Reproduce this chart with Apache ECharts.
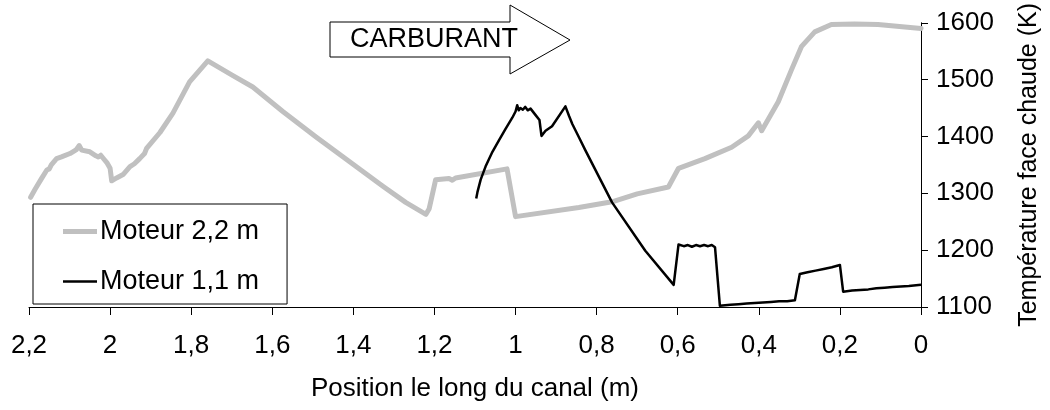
<!DOCTYPE html>
<html>
<head>
<meta charset="utf-8">
<script src="https://cdn.jsdelivr.net/npm/echarts@6/dist/echarts.min.js"></script>
<style>
  html, body { margin: 0; padding: 0; background: #fff; }
  #chart { width: 1050px; height: 410px; }
</style>
</head>
<body>
<div id="chart"></div>
<script>
// Hot-wall temperature profiles along the cooling channel
const seriesNames = ['Moteur 2,2 m', 'Moteur 1,1 m'];

// Engine 2.2 m: position (m) and temperature (K)
const pos22 = [2.196, 2.185, 2.170, 2.156, 2.150, 2.145, 2.132, 2.120, 2.099, 2.083, 2.076, 2.070,
  2.050, 2.035, 2.029, 2.023, 2.015, 2.007, 2.000, 1.996, 1.984, 1.968, 1.951, 1.940, 1.927,
  1.915, 1.910, 1.877, 1.845, 1.804, 1.759, 1.697, 1.648, 1.574, 1.492, 1.410, 1.328, 1.271,
  1.221, 1.213, 1.197, 1.164, 1.156, 1.148, 1.021, 1.000, 0.844, 0.762, 0.700, 0.623, 0.598,
  0.533, 0.467, 0.426, 0.401, 0.393, 0.352, 0.319, 0.295, 0.262, 0.221, 0.164, 0.106, 0.000];
const temp22 = [1293, 1307, 1325, 1341, 1343, 1350, 1361, 1364, 1370, 1377, 1384, 1376,
  1373, 1366, 1364, 1367, 1360, 1353, 1344, 1322, 1327, 1333, 1347, 1352, 1361,
  1370, 1379, 1407, 1441, 1496, 1533, 1507, 1487, 1444, 1399, 1356, 1313, 1284,
  1263, 1273, 1324, 1326, 1323, 1327, 1343, 1259, 1275, 1285, 1299, 1311, 1344,
  1361, 1381, 1401, 1424, 1410, 1461, 1518, 1558, 1584, 1597, 1598, 1597, 1590];

// Engine 1.1 m: position (m) and temperature (K)
const pos11 = [1.097, 1.094, 1.086, 1.074, 1.057, 1.041, 1.025, 1.008, 1.000, 0.996, 0.992, 0.988,
  0.982, 0.976, 0.970, 0.963, 0.951, 0.941, 0.936, 0.926, 0.910, 0.877, 0.868, 0.860, 0.844,
  0.828, 0.762, 0.680, 0.610,
  0.598, 0.585, 0.575, 0.565, 0.555, 0.545, 0.535, 0.525, 0.516, 0.508, 0.496,
  0.470, 0.450, 0.430, 0.410, 0.390, 0.370, 0.350, 0.330, 0.311, 0.299,
  0.280, 0.260, 0.240, 0.220, 0.200, 0.192,
  0.170, 0.150, 0.130, 0.110, 0.090, 0.070, 0.050, 0.030, 0.000];
const temp11 = [1291, 1302, 1324, 1347, 1373, 1393, 1413, 1433, 1444, 1455, 1446, 1450,
  1447, 1452, 1446, 1449, 1438, 1429, 1401, 1410, 1418, 1453, 1436, 1422, 1399,
  1376, 1284, 1199, 1139,
  1210, 1207, 1209, 1206, 1209, 1207, 1209, 1207, 1209, 1205, 1102,
  1104, 1105, 1106, 1107, 1108, 1109, 1110, 1110, 1112, 1158,
  1161, 1164, 1167, 1170, 1174, 1127,
  1129, 1130, 1131, 1133, 1134, 1135, 1136, 1137, 1139];

// Axis ranges and titles
const xMin = 0, xMax = 2.2, xStep = 0.2;
const yMin = 1100, yMax = 1600, yStep = 100;
const xTitle = 'Position le long du canal (m)';
const yTitle = 'Température face chaude (K)';
const arrowText = 'CARBURANT';

const toPairs = (xs, ys) => xs.map((x, i) => [x, ys[i]]);
const fmtComma = v => String(+(+v).toFixed(1)).replace('.', ',');
const fmtPlain = v => String(Math.round(v));

const FONT = 'Liberation Sans, Arial, Helvetica, sans-serif';
const FS_TICK = 26;
const FS_TEXT = 27;

const chart = echarts.init(document.getElementById('chart'), null, { renderer: 'canvas' });

chart.setOption({
  animation: false,
  backgroundColor: '#ffffff',
  textStyle: { fontFamily: FONT, color: '#000' },
  grid: { left: 29, right: 127, top: 16, bottom: 103, containLabel: false },
  legend: {
    orient: 'vertical',
    left: 33,
    top: 204,
    data: [
      { name: seriesNames[0], icon: 'path://M0,0H40V6H0Z' },
      { name: seriesNames[1], icon: 'path://M0,0H40V3H0Z' }
    ],
    symbolKeepAspect: true,
    borderColor: '#000',
    borderWidth: 1,
    backgroundColor: '#fff',
    padding: [14, 28, 9, 30],
    itemWidth: 34,
    itemHeight: 14,
    itemGap: 23,
    textStyle: { fontFamily: FONT, fontSize: FS_TEXT, color: '#000', padding: [0, 0, 0, -2] }
  },
  xAxis: {
    type: 'value',
    inverse: true,
    min: xMin,
    max: xMax,
    interval: xStep,
    name: xTitle,
    nameLocation: 'middle',
    nameGap: 69,
    nameTextStyle: { fontFamily: FONT, fontSize: FS_TEXT - 1, color: '#000' },
    axisLine: { show: true, onZero: false, lineStyle: { color: '#000', width: 1 } },
    axisTick: { show: true, length: 8, lineStyle: { color: '#000', width: 1 } },
    axisLabel: { margin: 26, fontFamily: FONT, fontSize: FS_TICK, color: '#000', formatter: fmtComma },
    splitLine: { show: false }
  },
  yAxis: {
    type: 'value',
    position: 'right',
    min: yMin,
    max: yMax,
    interval: yStep,
    name: yTitle,
    nameLocation: 'middle',
    nameRotate: 90,
    nameGap: 96,
    nameTextStyle: { fontFamily: FONT, fontSize: 25, color: '#000' },
    axisLine: { show: true, onZero: false, lineStyle: { color: '#000', width: 1 } },
    axisTick: { show: true, length: 7, lineStyle: { color: '#000', width: 1 } },
    axisLabel: { margin: 15, fontFamily: FONT, fontSize: FS_TICK, color: '#000', formatter: fmtPlain },
    splitLine: { show: false }
  },
  series: [
    {
      name: seriesNames[0],
      type: 'line',
      data: toPairs(pos22, temp22),
      showSymbol: false,
      symbol: 'none',
      lineStyle: { color: '#c0c0c0', width: 5, join: 'round', cap: 'round' },
      itemStyle: { color: '#c0c0c0' },
      z: 2
    },
    {
      name: seriesNames[1],
      type: 'line',
      data: toPairs(pos11, temp11),
      showSymbol: false,
      symbol: 'none',
      lineStyle: { color: '#000', width: 2.5, join: 'round' },
      itemStyle: { color: '#000' },
      z: 3
    }
  ],
  graphic: [
    {
      type: 'polygon',
      shape: {
        points: [[330, 22], [510, 22], [510, 5], [570, 40], [510, 74], [510, 57], [330, 57]]
      },
      style: { fill: '#fff', stroke: '#000', lineWidth: 1 },
      z: 10
    },
    {
      type: 'text',
      left: 350,
      top: 26,
      style: { text: arrowText, font: FS_TEXT + 'px ' + FONT, fill: '#000' },
      z: 11
    }
  ]
});
</script>
</body>
</html>
